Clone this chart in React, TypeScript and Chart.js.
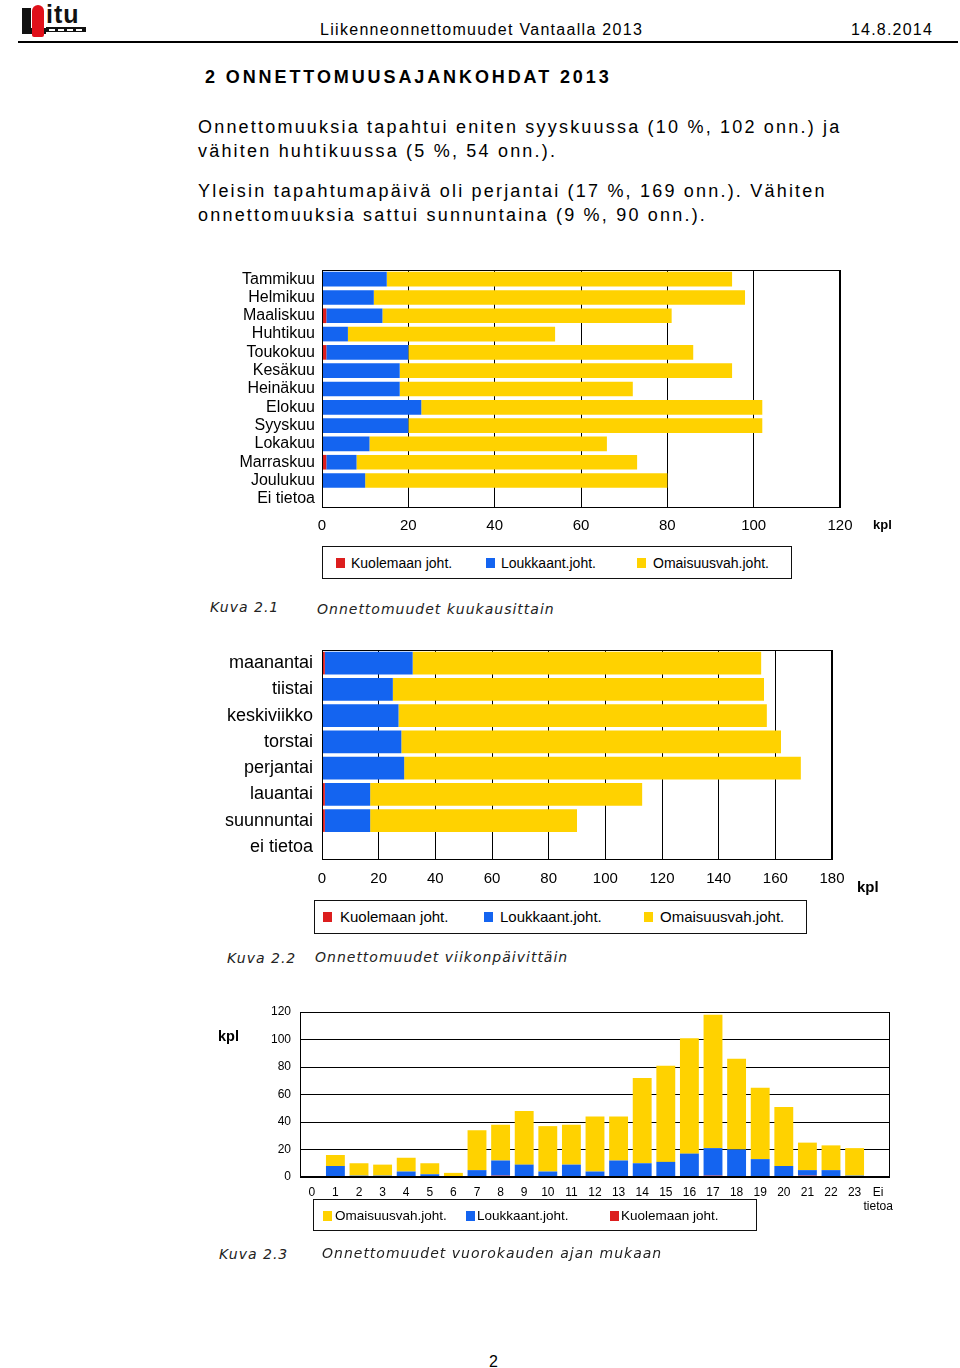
import React, { useEffect, useRef } from "react";
import { Chart, registerables } from "chart.js";
Chart.register(...registerables);

const RED = "#dc1e1e";
const BLUE = "#1464f0";
const YELLOW = "#ffd200";
const FONT = "'Liberation Sans', Arial, sans-serif";
const CAPFONT = "'DejaVu Sans', Verdana, sans-serif";

// Kuva 2.1 – monthly
const months = ["Tammikuu", "Helmikuu", "Maaliskuu", "Huhtikuu", "Toukokuu", "Kesäkuu", "Heinäkuu", "Elokuu", "Syyskuu", "Lokakuu", "Marraskuu", "Joulukuu", "Ei tietoa"];
const monthDeath = [0, 0, 1, 0, 1, 0, 0, 0, 0, 0, 1, 0, 0];
const monthInjury = [15, 12, 13, 6, 19, 18, 18, 23, 20, 11, 7, 10, 0];
const monthProperty = [80, 86, 67, 48, 66, 77, 54, 79, 82, 55, 65, 70, 0];

// Kuva 2.2 – weekday
const days = ["maanantai", "tiistai", "keskiviikko", "torstai", "perjantai", "lauantai", "suunnuntai", "ei tietoa"];
const dayDeath = [1, 0, 0, 0, 0, 1, 1, 0];
const dayInjury = [31, 25, 27, 28, 29, 16, 16, 0];
const dayProperty = [123, 131, 130, 134, 140, 96, 73, 0];

// Kuva 2.3 – hour of day
const hours: (string | string[])[] = ["0", "1", "2", "3", "4", "5", "6", "7", "8", "9", "10", "11", "12", "13", "14", "15", "16", "17", "18", "19", "20", "21", "22", "23", ["Ei", "tietoa"]];
const hourDeath = [0, 0, 0, 0, 0, 0, 0, 0, 1, 0, 0, 0, 0, 0, 0, 0, 0, 1, 0, 0, 0, 1, 0, 0, 0];
const hourInjury = [0, 8, 1, 1, 4, 2, 0, 5, 11, 9, 4, 9, 4, 12, 10, 11, 17, 20, 20, 13, 8, 4, 5, 1, 0];
const hourProperty = [0, 8, 9, 8, 10, 8, 3, 29, 26, 39, 33, 29, 40, 32, 62, 70, 84, 97, 66, 52, 43, 20, 18, 20, 0];

const boxPlugin = {
  id: "plotBox",
  afterDatasetsDraw(chart: any) {
    const { ctx, chartArea: a } = chart;
    ctx.save();
    ctx.strokeStyle = "#000";
    ctx.lineWidth = 1;
    ctx.strokeRect(Math.round(a.left) + 0.5, Math.round(a.top) + 0.5, Math.round(a.right - a.left) - 1, Math.round(a.bottom - a.top) - 1);
    ctx.restore();
  },
};

function zeroPad(s: any) {
  s.paddingTop = 0;
  s.paddingBottom = 0;
  s.paddingLeft = 0;
  s.paddingRight = 0;
}

function ds(label: string, data: number[], color: string, bp: number) {
  return { label, data, backgroundColor: color, borderWidth: 0, barPercentage: bp, categoryPercentage: 1 };
}

function ChartCanvas({ left, top, width, height, make }: any) {
  const ref = useRef<HTMLCanvasElement>(null);
  useEffect(() => {
    const c = new Chart(ref.current as HTMLCanvasElement, make());
    return () => c.destroy();
  }, []);
  return <canvas ref={ref} width={width} height={height} style={{ position: "absolute", left, top, width, height }} />;
}

function T({ x, y, size, children, style }: any) {
  return (
    <div style={{ position: "absolute", left: x, top: y - size * 0.6, fontSize: size, lineHeight: `${size * 1.2}px`, whiteSpace: "nowrap", fontFamily: FONT, color: "#000", ...style }}>
      {children}
    </div>
  );
}

function Legend({ box, items, size, cy }: any) {
  return (
    <>
      <div style={{ position: "absolute", left: box[0], top: box[1], width: box[2], height: box[3], border: "1px solid #111", boxSizing: "border-box" }} />
      {items.map((it: any, i: number) => (
        <React.Fragment key={i}>
          <div style={{ position: "absolute", left: it.sx, top: cy - 5, width: 9, height: 10, background: it.color }} />
          <T x={it.tx} y={cy} size={size}>{it.text}</T>
        </React.Fragment>
      ))}
    </>
  );
}

function hbarConfig(labels: string[], death: number[], injury: number[], property: number[], o: any) {
  return () => ({
    type: "bar",
    data: {
      labels,
      datasets: [ds("Kuolemaan joht.", death, RED, o.bp), ds("Loukkaant.joht.", injury, BLUE, o.bp), ds("Omaisuusvah.joht.", property, YELLOW, o.bp)],
    },
    options: {
      indexAxis: "y",
      animation: false,
      responsive: false,
      layout: { padding: { top: o.padTop, right: o.padRight, left: 0, bottom: 0 } },
      plugins: { legend: { display: false }, tooltip: { enabled: false } },
      scales: {
        x: {
          stacked: true,
          min: 0,
          max: o.max,
          ticks: { stepSize: 20, padding: o.xPad, color: "#000", font: { size: o.xSize, family: FONT } },
          grid: { color: "#000", lineWidth: 1, drawTicks: false },
          border: { display: false },
          afterFit: (s: any) => { s.height = o.xH; zeroPad(s); },
        },
        y: {
          stacked: true,
          ticks: { padding: o.yPad, color: "#000", font: { size: o.ySize, family: FONT }, autoSkip: false },
          grid: { display: false, drawTicks: false },
          border: { display: false },
          afterFit: (s: any) => { s.width = o.yW; zeroPad(s); },
        },
      },
    },
    plugins: [boxPlugin],
  });
}

const monthCfg = hbarConfig(months, monthDeath, monthInjury, monthProperty, {
  bp: 0.8, padTop: 8, padRight: 70, max: 120, xPad: 9, xSize: 15, xH: 34, yPad: 7, ySize: 16, yW: 92,
});

const dayCfg = hbarConfig(days, dayDeath, dayInjury, dayProperty, {
  bp: 0.86, padTop: 5, padRight: 78, max: 180, xPad: 10, xSize: 15, xH: 35, yPad: 9, ySize: 18, yW: 102,
});

const hourCfg = () => ({
  type: "bar",
  data: {
    labels: hours,
    datasets: [ds("Kuolemaan joht.", hourDeath, RED, 0.8), ds("Loukkaant.joht.", hourInjury, BLUE, 0.8), ds("Omaisuusvah.joht.", hourProperty, YELLOW, 0.8)],
  },
  options: {
    animation: false,
    responsive: false,
    layout: { padding: { top: 12, right: 20, left: 0, bottom: 0 } },
    plugins: { legend: { display: false }, tooltip: { enabled: false } },
    scales: {
      x: {
        stacked: true,
        ticks: { padding: 8, color: "#000", font: { size: 12, family: FONT }, autoSkip: false, maxRotation: 0 },
        grid: { display: false, drawTicks: false },
        border: { display: false },
        afterFit: (s: any) => { s.height = 38; zeroPad(s); },
      },
      y: {
        stacked: true,
        min: 0,
        max: 120,
        ticks: { stepSize: 20, padding: 9, color: "#000", font: { size: 12, family: FONT } },
        grid: { color: "#000", lineWidth: 1, drawTicks: false },
        border: { display: false },
        afterFit: (s: any) => { s.width = 90; zeroPad(s); },
      },
    },
  },
  plugins: [boxPlugin],
});

function Logo() {
  return (
    <div style={{ position: "absolute", left: 20, top: 4, width: 68, height: 34 }}>
      <div style={{ position: "absolute", left: 2, top: 4, width: 9, height: 26, background: "#111" }} />
      <div style={{ position: "absolute", left: 2, top: 24, width: 24, height: 6, background: "#111" }} />
      <div style={{ position: "absolute", left: 12, top: 1, width: 12, height: 32, background: "#e0101a", borderRadius: "6px 6px 2px 2px" }} />
      <div style={{ position: "absolute", left: 26, top: -2, fontFamily: FONT, fontWeight: 900, fontSize: 25, lineHeight: "25px", letterSpacing: "1px", color: "#111" }}>itu</div>
      <div style={{ position: "absolute", left: 26, top: 23, width: 40, height: 5, background: "#111" }} />
      {[0, 1, 2, 3].map((i) => (
        <div key={i} style={{ position: "absolute", left: 29 + i * 9, top: 25, width: 6, height: 1.5, background: "#fff" }} />
      ))}
    </div>
  );
}

export default function App() {
  const body = { letterSpacing: "2.2px" };
  const cap = { fontFamily: CAPFONT, fontStyle: "italic", letterSpacing: "1px", color: "#222" };
  return (
    <div style={{ position: "absolute", left: 0, top: 0, width: 960, height: 1368, background: "#fff", overflow: "hidden" }}>
      <Logo />
      <T x={320} y={30} size={16} style={{ letterSpacing: "1.3px" }}>Liikenneonnettomuudet Vantaalla 2013</T>
      <T x={851} y={30} size={16} style={{ letterSpacing: "1.2px" }}>14.8.2014</T>
      <div style={{ position: "absolute", left: 18, top: 41, width: 940, height: 2, background: "#000" }} />

      <T x={205} y={78} size={18} style={{ fontWeight: "bold", letterSpacing: "2.9px" }}>2 ONNETTOMUUSAJANKOHDAT 2013</T>
      <T x={198} y={128} size={18} style={body}>Onnettomuuksia tapahtui eniten syyskuussa (10 %, 102 onn.) ja</T>
      <T x={198} y={152} size={18} style={body}>vähiten huhtikuussa (5 %, 54 onn.).</T>
      <T x={198} y={192} size={18} style={body}>Yleisin tapahtumapäivä oli perjantai (17 %, 169 onn.). Vähiten</T>
      <T x={198} y={216} size={18} style={body}>onnettomuuksia sattui sunnuntaina (9 %, 90 onn.).</T>

      <ChartCanvas left={230} top={262} width={680} height={280} make={monthCfg} />
      <T x={873} y={525} size={13} style={{ fontWeight: "bold" }}>kpl</T>
      <Legend box={[322, 546, 470, 33]} cy={563} size={14} items={[
        { sx: 336, tx: 351, color: RED, text: "Kuolemaan joht." },
        { sx: 486, tx: 501, color: BLUE, text: "Loukkaant.joht." },
        { sx: 637, tx: 653, color: YELLOW, text: "Omaisuusvah.joht." },
      ]} />
      <T x={210} y={607} size={14} style={cap}>Kuva 2.1</T>
      <T x={317} y={609} size={14} style={cap}>Onnettomuudet kuukausittain</T>

      <ChartCanvas left={220} top={645} width={690} height={250} make={dayCfg} />
      <T x={857} y={887} size={15} style={{ fontWeight: "bold" }}>kpl</T>
      <Legend box={[314, 900, 493, 34]} cy={917} size={15} items={[
        { sx: 323, tx: 340, color: RED, text: "Kuolemaan joht." },
        { sx: 484, tx: 500, color: BLUE, text: "Loukkaant.joht." },
        { sx: 644, tx: 660, color: YELLOW, text: "Omaisuusvah.joht." },
      ]} />
      <T x={227} y={958} size={14} style={cap}>Kuva 2.2</T>
      <T x={315} y={957} size={14} style={cap}>Onnettomuudet viikonpäivittäin</T>

      <ChartCanvas left={210} top={1000} width={700} height={215} make={hourCfg} />
      <T x={218} y={1037} size={14.5} style={{ fontWeight: "bold" }}>kpl</T>
      <Legend box={[313, 1199, 444, 32]} cy={1216} size={13.5} items={[
        { sx: 323, tx: 335, color: YELLOW, text: "Omaisuusvah.joht." },
        { sx: 466, tx: 477, color: BLUE, text: "Loukkaant.joht." },
        { sx: 610, tx: 621, color: RED, text: "Kuolemaan joht." },
      ]} />
      <T x={219} y={1254} size={14} style={cap}>Kuva 2.3</T>
      <T x={322} y={1253} size={14} style={cap}>Onnettomuudet vuorokauden ajan mukaan</T>

      <T x={489} y={1362} size={16}>2</T>
    </div>
  );
}
